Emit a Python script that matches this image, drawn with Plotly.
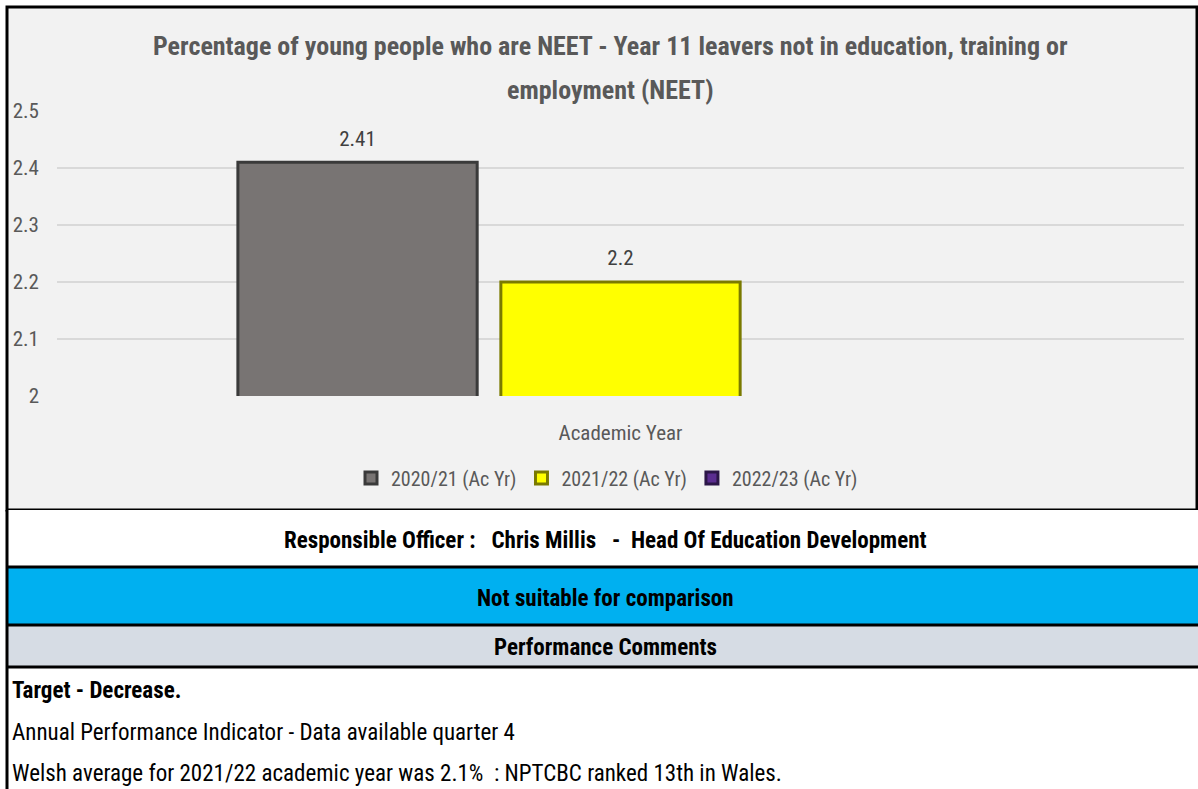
import plotly.graph_objects as go

W, H = 1198, 789

def px(v):
    return v / W

def py(v):
    return 1 - v / H

# ---- data ----
title_lines = [
    "Percentage of young people who are NEET - Year 11 leavers not in education, training or",
    "employment (NEET)",
]
category = ["Academic Year"]
series_names = ["2020/21 (Ac Yr)", "2021/22 (Ac Yr)", "2022/23 (Ac Yr)"]
series_values = [2.41, 2.2, None]
series_labels = ["2.41", "2.2", ""]
series_colors = ["#787473", "#ffff00", "#5b2d90"]
series_edges = ["#3a3a3a", "#7a7a00", "#2c1648"]
y_tickvals = [2.0, 2.1, 2.2, 2.3, 2.4, 2.5]
y_ticktext = ["2", "2.1", "2.2", "2.3", "2.4", "2.5"]
officer_text = "Responsible Officer :   Chris Millis   -  Head Of Education Development"
rating_text = "Not suitable for comparison"
comments_header = "Performance Comments"
comment_lines = [
    "Target - Decrease.",
    "Annual Performance Indicator - Data available quarter 4",
    "Welsh average for 2021/22 academic year was 2.1%  : NPTCBC ranked 13th in Wales.",
]
comment_bold = [True, False, False]

FONT = "Liberation Sans Narrow, Roboto Condensed, Lato, sans-serif"

fig = go.Figure()
for name, val, lab, col, edge in zip(series_names, series_values, series_labels,
                                     series_colors, series_edges):
    fig.add_trace(go.Bar(
        x=category, y=[val], name=name,
        text=["<span style='font-size:21px'>%s</span><br>&nbsp;" % lab if lab else ""],
        textposition="outside", cliponaxis=False,
        textfont=dict(size=9, color="#404040", family=FONT),
        marker=dict(color=col, line=dict(color=edge, width=3)),
        hoverinfo="skip",
    ))

shapes = [
    dict(type="rect", xref="paper", yref="paper", x0=px(7), x1=px(1197), y0=py(510), y1=py(7),
         fillcolor="#f2f2f2", line=dict(color="#000000", width=3), layer="below"),
    dict(type="rect", xref="paper", yref="paper", x0=px(7), x1=px(1198), y0=py(567), y1=py(510),
         fillcolor="#ffffff", line=dict(width=0), layer="below"),
    dict(type="rect", xref="paper", yref="paper", x0=px(7), x1=px(1198), y0=py(625), y1=py(567),
         fillcolor="#00b0f0", line=dict(width=0), layer="below"),
    dict(type="rect", xref="paper", yref="paper", x0=px(7), x1=px(1198), y0=py(667), y1=py(625),
         fillcolor="#d6dce4", line=dict(width=0), layer="below"),
]
for yy in [567, 625, 667]:
    shapes.append(dict(type="line", xref="paper", yref="paper", x0=px(7), x1=px(1198),
                       y0=py(yy), y1=py(yy), line=dict(color="#000000", width=3)))
shapes.append(dict(type="line", xref="paper", yref="paper", x0=px(7), x1=px(7),
                   y0=py(510), y1=0, line=dict(color="#000000", width=3)))

annotations = []
for txt, yy in zip(title_lines, [46, 90]):
    annotations.append(dict(text="<b>%s</b>" % txt, xref="paper", yref="paper",
                            x=px(610), y=py(yy), xanchor="center", yanchor="middle",
                            showarrow=False, font=dict(size=26, color="#595959", family=FONT)))
for txt, yy in zip([officer_text, rating_text, comments_header], [540, 598, 647]):
    annotations.append(dict(text="<b>%s</b>" % txt, xref="paper", yref="paper",
                            x=px(605), y=py(yy), xanchor="center", yanchor="middle",
                            showarrow=False, font=dict(size=23, color="#000000", family=FONT)))
for txt, bold, yy in zip(comment_lines, comment_bold, [690, 732, 773]):
    annotations.append(dict(text=("<b>%s</b>" % txt) if bold else txt, xref="paper", yref="paper",
                            x=px(10), y=py(yy), xanchor="left", yanchor="middle",
                            showarrow=False, font=dict(size=23, color="#000000", family=FONT)))

fig.update_layout(
    width=W, height=H, autosize=False,
    margin=dict(l=0, r=0, t=0, b=0, pad=0, autoexpand=False),
    paper_bgcolor="#ffffff", plot_bgcolor="rgba(0,0,0,0)",
    barmode="group", bargap=0.3, bargroupgap=0.09,
    showlegend=True,
    legend=dict(orientation="h", x=px(607), xanchor="center", y=py(478), yanchor="middle",
                font=dict(size=20, color="#595959", family=FONT), bgcolor="rgba(0,0,0,0)",
                itemwidth=30, traceorder="normal"),
    xaxis=dict(domain=[px(57), px(1184)], showgrid=False, showline=False, zeroline=False,
               tickfont=dict(size=21, color="#595959", family=FONT), ticks="",
               ticklabelstandoff=22, automargin=False),
    yaxis=dict(domain=[py(396), py(111)], range=[2, 2.5], tickvals=y_tickvals, ticktext=y_ticktext,
               showgrid=True, gridcolor="#d9d9d9", gridwidth=1.5, zeroline=False, showline=False,
               tickfont=dict(size=21, color="#595959", family=FONT), ticks="",
               ticklabelstandoff=17, automargin=False),
    shapes=shapes, annotations=annotations,
    font=dict(family=FONT),
)

fig.write_html("out.html", config={"displayModeBar": False},
               post_script="document.body.style.margin='0px';document.body.style.overflow='hidden';")
